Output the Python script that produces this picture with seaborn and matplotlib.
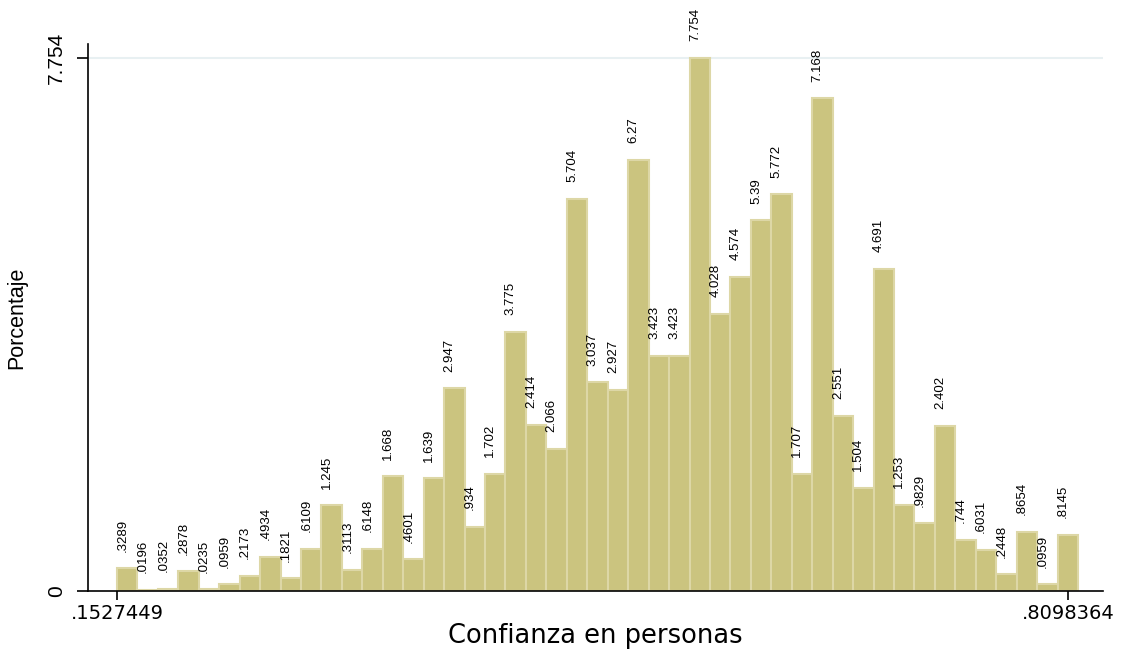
import numpy as np
import pandas as pd
import matplotlib
matplotlib.use('Agg')
import matplotlib.pyplot as plt
import seaborn as sns

# %%
# bar heights (percent), left to right
percent = [.3289, .0196, .0352, .2878, .0235, .0959, .2173, .4934, .1821, .6109,
           1.245, .3113, .6148, 1.668, .4601, 1.639, 2.947, .934, 1.702, 3.775,
           2.414, 2.066, 5.704, 3.037, 2.927, 6.27, 3.423, 3.423, 7.754, 4.028,
           4.574, 5.39, 5.772, 1.707, 7.168, 2.551, 1.504, 4.691, 1.253, .9829,
           2.402, .744, .6031, .2448, .8654, .0959, .8145]
x_min = 0.1527449
x_max = 0.8098364

n_bins = len(percent)
width = (x_max - x_min) / (n_bins - 0.5)
edges = x_min + width * np.arange(n_bins + 1)
centers = (edges[:-1] + edges[1:]) / 2

data = pd.DataFrame({'Confianza en personas': centers, 'Porcentaje': percent})

# %%
sns.set_style('white', rc={'text.color': 'black', 'axes.labelcolor': 'black',
                           'xtick.color': 'black', 'ytick.color': 'black',
                           'xtick.bottom': True, 'ytick.left': True})
plt.rcParams['font.family'] = ['DejaVu Sans']
arial = ['Liberation Sans', 'DejaVu Sans']

fig = plt.figure(figsize=(11.23, 6.5), dpi=100)
ax = fig.add_axes([88 / 1123, 59 / 650, 1015 / 1123, 547 / 650])

sns.histplot(data=data, x='Confianza en personas', weights='Porcentaje',
             bins=[float(e) for e in edges], stat='count', color='#CBC47F', alpha=1,
             edgecolor='#DDD7A6', linewidth=1.5, ax=ax)

top = max(percent)
px = width / 20.45
ax.set_xlim(x_min - 29 * px, edges[-1] + 25 * px)
ax.set_ylim(0, top + 14 / 68.74)

ax.axhline(top, color='#E8F0F2', linewidth=1.5, zorder=0)

labels = [('%.4g' % v).lstrip('0') for v in percent]
for patch, lab in zip(ax.containers[0], labels):
    ax.annotate(lab, (patch.get_x() + patch.get_width() / 2, patch.get_height()),
                xytext=(-3.5, 12), textcoords='offset points', rotation=90,
                ha='center', va='bottom', fontsize=9.5, family=arial)

ax.set_xticks([x_min, x_max])
ax.set_xticklabels(['.1527449', '.8098364'], fontsize=14)
ax.set_yticks([0, top])
ax.set_yticklabels(['0', '7.754'], fontsize=15, rotation=90, va='center', family=arial)
ax.tick_params(axis='x', direction='out', length=6.5, width=1.2, pad=3)
ax.tick_params(axis='y', direction='out', length=8, width=1.2, pad=8)

ax.set_xlabel('Confianza en personas', fontsize=18.5, labelpad=0)
ax.set_ylabel('Porcentaje', fontsize=15.5, labelpad=14, family=arial)

sns.despine(ax=ax, top=True, right=True)
for s in ['left', 'bottom']:
    ax.spines[s].set_color('black')
    ax.spines[s].set_linewidth(1.2)

plt.savefig('out.png', dpi=100)
